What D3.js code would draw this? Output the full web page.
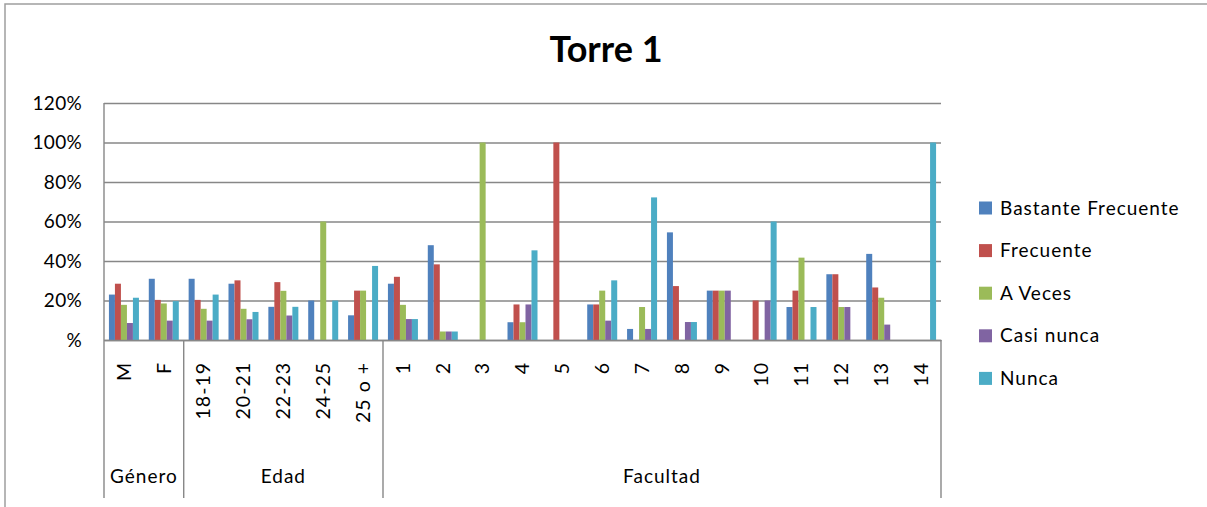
<!DOCTYPE html>
<html>
<head>
<meta charset="utf-8">
<script src="https://cdn.jsdelivr.net/npm/d3@7"></script>
<style>
  html, body { margin: 0; padding: 0; background: #fff; }
  svg { display: block; font-family: Lato, "Open Sans", sans-serif; }
</style>
</head>
<body>
<svg id="chart" width="1207" height="507"></svg>
<script>
// Categories along the bottom axis, grouped by dimension
const categories = ["M", "F", "18-19", "20-21", "22-23", "24-25", "25 o +",
  "1", "2", "3", "4", "5", "6", "7", "8", "9", "10", "11", "12", "13", "14"];
const groups = [
  { name: "Género", first: 0, count: 2 },
  { name: "Edad", first: 2, count: 5 },
  { name: "Facultad", first: 7, count: 14 }
];

// Response series (percent of respondents per category)
const seriesNames = ["Bastante Frecuente", "Frecuente", "A Veces", "Casi nunca", "Nunca"];
const seriesColors = ["#4F81BD", "#C0504D", "#9BBB59", "#8064A2", "#4BACC6"];

const bastanteFrecuente = [23, 31, 31, 28.5, 16.8, 20, 12.5, 28.5, 48, 0, 9, 0, 18, 5.6, 54.5, 25, 0, 16.7, 33.3, 43.6, 0];
const frecuente         = [28.5, 20.3, 20.3, 30.2, 29.3, 0, 25, 32, 38.3, 0, 18, 100, 18, 0, 27.3, 25, 20, 25, 33.3, 26.6, 0];
const aVeces            = [17.8, 18.5, 15.8, 15.8, 24.9, 60, 25, 17.8, 4.3, 100, 9, 0, 25, 16.7, 0, 25, 0, 41.7, 16.7, 21.4, 0];
const casiNunca         = [8.6, 9.8, 9.8, 10.5, 12.4, 0, 0, 10.6, 4.3, 0, 18, 0, 9.8, 5.6, 9.1, 25, 20, 0, 16.7, 7.8, 0];
const nunca             = [21.4, 19.7, 23, 14.2, 16.8, 20, 37.5, 10.6, 4.3, 0, 45.4, 0, 30.2, 72.2, 9.1, 0, 60, 16.7, 0, 0, 100];

const seriesValues = [bastanteFrecuente, frecuente, aVeces, casiNunca, nunca];
const yTicks = [0, 20, 40, 60, 80, 100, 120];

const svg = d3.select("#chart");
const font = "Lato, 'Open Sans', sans-serif";
const gridColor = "#878787";

// Plot area
const plot = { left: 104, right: 941, top: 103, bottom: 340 };
const catBottom = 498;

// Outer frame (top and left edges)
svg.append("path")
  .attr("d", "M5,507 V4 H1207")
  .attr("fill", "none")
  .attr("stroke", "#9e9e9e")
  .attr("stroke-width", 1.5);

// Title
svg.append("text")
  .attr("x", 606).attr("y", 62)
  .attr("text-anchor", "middle")
  .attr("font-weight", "bold")
  .attr("font-size", 36)
  .attr("fill", "#000")
  .text("Torre 1");

// Scales
const x0 = d3.scaleBand().domain(categories).range([plot.left, plot.right]).padding(0);
const groupWidth = 30;
const x1 = d3.scaleBand().domain(seriesNames)
  .range([(x0.bandwidth() - groupWidth) / 2, (x0.bandwidth() + groupWidth) / 2]).padding(0);
const y = d3.scaleLinear().domain([0, 120]).range([plot.bottom, plot.top]);

// Horizontal gridlines with percent labels
const yAxis = d3.axisLeft(y)
  .tickValues(yTicks)
  .tickSize(-(plot.right - plot.left))
  .tickPadding(22)
  .tickFormat(d => d === 0 ? "%" : d + "%");

const gy = svg.append("g")
  .attr("transform", `translate(${plot.left},0)`)
  .call(yAxis);
gy.select(".domain").remove();
gy.selectAll(".tick line")
  .attr("stroke", gridColor)
  .attr("stroke-width", 1.4);
gy.selectAll(".tick text")
  .attr("font-family", font)
  .attr("font-size", 19)
  .attr("letter-spacing", 0.3)
  .attr("fill", "#000");

// Bars
const cats = svg.append("g").selectAll("g")
  .data(categories)
  .join("g")
  .attr("transform", d => `translate(${x0(d)},0)`);

cats.selectAll("rect")
  .data((c, i) => seriesNames.map((s, k) => ({ s, k, v: seriesValues[k][i] })))
  .join("rect")
  .attr("x", d => x1(d.s))
  .attr("width", x1.bandwidth())
  .attr("y", d => y(d.v))
  .attr("height", d => y(0) - y(d.v))
  .attr("fill", d => seriesColors[d.k]);

// Left axis line (continues down through category area)
svg.append("line")
  .attr("x1", plot.left).attr("x2", plot.left)
  .attr("y1", plot.top).attr("y2", catBottom)
  .attr("stroke", gridColor).attr("stroke-width", 1.4);

// Category axis with rotated labels
const xAxis = d3.axisBottom(x0).tickSize(0).tickPadding(0);
const gx = svg.append("g")
  .attr("transform", `translate(0,${plot.bottom})`)
  .call(xAxis);
gx.select(".domain")
  .attr("stroke", gridColor).attr("stroke-width", 1.4);
gx.selectAll(".tick text")
  .attr("font-family", font)
  .attr("font-size", 19.5)
  .attr("letter-spacing", 1)
  .attr("fill", "#000")
  .attr("text-anchor", "end")
  .attr("transform", "translate(0,22) rotate(-90)")
  .attr("x", 0)
  .attr("y", 0)
  .attr("dy", "0.35em");

// Group separators and group names
const boundaries = [groups[1].first, groups[2].first, categories.length];
svg.append("g").selectAll("line")
  .data(boundaries)
  .join("line")
  .attr("x1", i => i < categories.length ? x0(categories[i]) : plot.right)
  .attr("x2", i => i < categories.length ? x0(categories[i]) : plot.right)
  .attr("y1", plot.bottom)
  .attr("y2", catBottom)
  .attr("stroke", gridColor).attr("stroke-width", 1.4);

svg.append("g").selectAll("text")
  .data(groups)
  .join("text")
  .attr("x", g => x0(categories[g.first]) + g.count * x0.bandwidth() / 2)
  .attr("y", 483)
  .attr("text-anchor", "middle")
  .attr("font-family", font)
  .attr("font-size", 19)
  .attr("letter-spacing", 1)
  .attr("fill", "#000")
  .text(g => g.name);

// Legend
const legend = svg.append("g").selectAll("g")
  .data(seriesNames)
  .join("g")
  .attr("transform", (d, i) => `translate(979,${208 + i * 42.6})`);
legend.append("rect")
  .attr("x", 0).attr("y", -6.5)
  .attr("width", 13).attr("height", 13)
  .attr("fill", (d, i) => seriesColors[i]);
legend.append("text")
  .attr("x", 21).attr("y", 0)
  .attr("dy", "0.35em")
  .attr("font-family", font)
  .attr("font-size", 19)
  .attr("letter-spacing", 1)
  .attr("fill", "#000")
  .text(d => d);
</script>
</body>
</html>
